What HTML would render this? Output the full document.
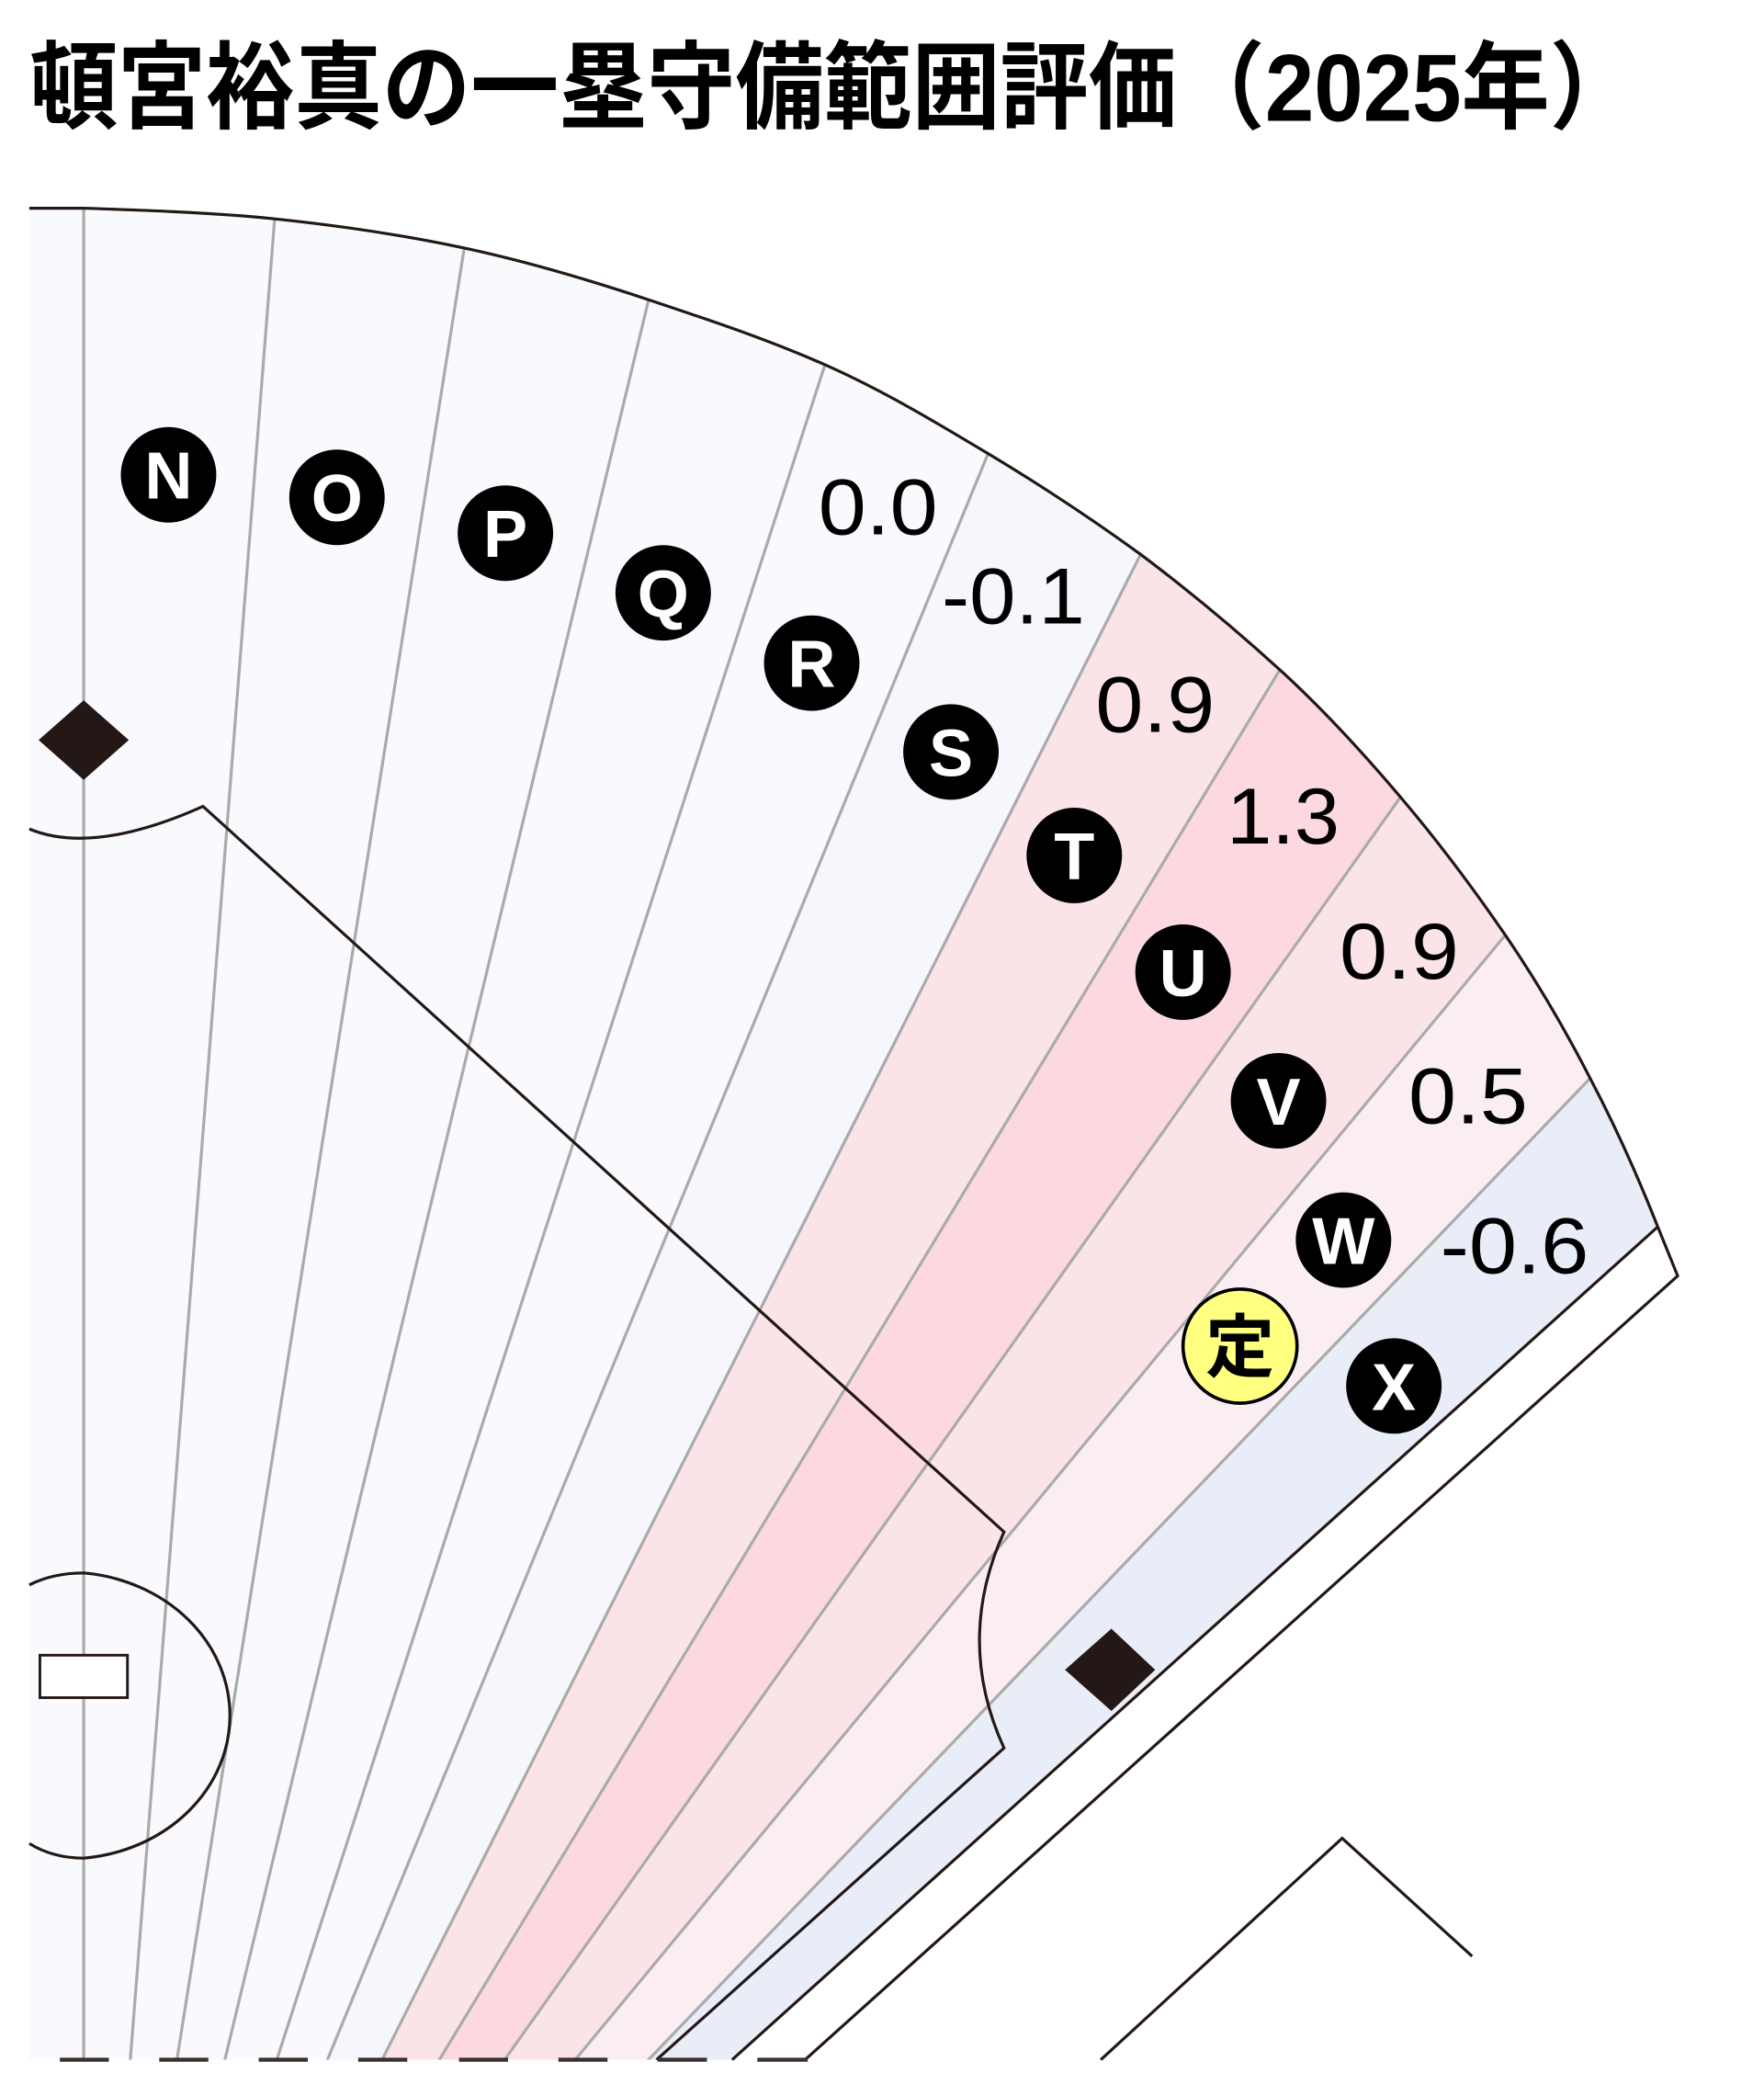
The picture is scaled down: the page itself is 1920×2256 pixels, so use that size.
<!DOCTYPE html>
<html><head><meta charset="utf-8"><style>
html,body{margin:0;padding:0;background:#fff}
svg{display:block}
</style></head><body>
<svg width="1920" height="2256" viewBox="0 0 1330 1563" xmlns="http://www.w3.org/2000/svg">
<defs>
<clipPath id="fan"><path d="M22,157 L63,157 C94,158 159,160 207,165 C255,170 303,177 350,187 C397,197 444,211 489,226 C534,241 579,256 622,275 C665,294 705,318 745,342 C785,366 823,391 860,418 C896,445 932,475 965,505 C998,535 1028,568 1056,601 C1084,634 1111,670 1135,705 C1159,740 1180,776 1199,813 C1218,849 1235,887 1250,925 L552,1553 L22,1553 Z"/></clipPath>
</defs>
<rect width="1330" height="1563" fill="#fff"/>
<text x="22" y="91" font-family="'Liberation Sans','Noto Sans CJK JP',sans-serif" font-weight="bold" font-size="72" textLength="1213" lengthAdjust="spacingAndGlyphs" fill="#000">頓宮裕真の一塁守備範囲評価（2025年）</text>
<g clip-path="url(#fan)">
<rect x="0" y="100" width="1330" height="1460" fill="#f9f9fe"/>
<polygon points="785,245 906,327 287,1555 246,1555" fill="#f5f7fc"/>
<polygon points="906,327 1016,421 330,1555 287,1555" fill="#fae4e8"/>
<polygon points="1016,421 1110,525 379,1555 330,1555" fill="#fbd9de"/>
<polygon points="1110,525 1191,637 432,1555 379,1555" fill="#fae4e8"/>
<polygon points="1191,637 1256,754 487,1555 432,1555" fill="#fbeef2"/>
<polygon points="1256,754 1320,870 552,1555 487,1555" fill="#e8edf7"/>
<g stroke="#aaa" stroke-width="2.2" fill="none">
<line x1="63" y1="157" x2="63" y2="1555"/>
<line x1="207" y1="165" x2="98" y2="1555"/>
<line x1="350" y1="187" x2="133" y2="1555"/>
<line x1="489" y1="226" x2="169" y2="1555"/>
<line x1="622" y1="275" x2="208" y2="1555"/>
<line x1="745" y1="342" x2="246" y2="1555"/>
<line x1="860" y1="418" x2="287" y2="1555"/>
<line x1="965" y1="505" x2="330" y2="1555"/>
<line x1="1056" y1="601" x2="379" y2="1555"/>
<line x1="1135" y1="705" x2="432" y2="1555"/>
<line x1="1199" y1="813" x2="487" y2="1555"/>
</g>
</g>
<g stroke="#231815" stroke-width="2.2" fill="none">
<path d="M22,157 L63,157 C94,158 159,160 207,165 C255,170 303,177 350,187 C397,197 444,211 489,226 C534,241 579,256 622,275 C665,294 705,318 745,342 C785,366 823,391 860,418 C896,445 932,475 965,505 C998,535 1028,568 1056,601 C1084,634 1111,670 1135,705 C1159,740 1180,776 1199,813 C1218,849 1235,887 1250,925 L1265,962 L607,1553"/>
<line x1="1250" y1="925" x2="552" y2="1553"/>
<path d="M22,625 Q70,645 153,608 L757,1155 Q720,1237 757,1318 L495,1553"/>
<path d="M22,1195 Q40,1186 63,1186 A122,108 0 0 1 63,1401 Q40,1401 22,1390"/>
<polyline points="1110,1475 1012,1386 830,1553"/>
</g>
<rect x="30" y="1248" width="66" height="32" fill="#fff" stroke="#231815" stroke-width="2"/>
<polygon points="29,558 63,528 97,558 63,588" fill="#231815"/>
<polygon points="803,1259 838,1228 871,1259 838,1290" fill="#231815"/>
<g stroke="#3a3030" stroke-width="3">
<line x1="45" y1="1553" x2="82" y2="1553"/><line x1="120" y1="1553" x2="157" y2="1553"/>
<line x1="195" y1="1553" x2="232" y2="1553"/><line x1="270" y1="1553" x2="307" y2="1553"/>
<line x1="346" y1="1553" x2="383" y2="1553"/><line x1="421" y1="1553" x2="458" y2="1553"/>
<line x1="496" y1="1553" x2="533" y2="1553"/><line x1="571" y1="1553" x2="609" y2="1553"/>
</g>
<g fill="#000">
<circle cx="127" cy="358" r="36"/><circle cx="254" cy="375" r="36"/>
<circle cx="381" cy="402" r="36"/><circle cx="500" cy="447" r="36"/>
<circle cx="612" cy="500" r="36"/><circle cx="717" cy="567" r="36"/>
<circle cx="810" cy="645" r="36"/><circle cx="892" cy="733" r="36"/>
<circle cx="964" cy="830" r="36"/><circle cx="1013" cy="935" r="36"/>
<circle cx="1051" cy="1045" r="36"/>
</g>
<circle cx="935" cy="1015" r="43" fill="#ffff80" stroke="#000" stroke-width="2.5"/>
<g fill="#fff" font-family="'Liberation Sans',sans-serif" font-weight="bold" font-size="50" text-anchor="middle">
<text x="127" y="376">N</text><text x="254" y="393">O</text>
<text x="381" y="420">P</text><text x="500" y="465">Q</text>
<text x="612" y="518">R</text><text x="717" y="585">S</text>
<text x="810" y="663">T</text><text x="892" y="751">U</text>
<text x="964" y="848">V</text><text x="1013" y="953">W</text>
<text x="1051" y="1063">X</text>
</g>
<text x="935" y="1034" fill="#000" font-family="'Noto Sans CJK JP',sans-serif" font-weight="bold" font-size="52" text-anchor="middle">定</text>
<g fill="#000" font-family="'Liberation Sans',sans-serif" font-size="60">
<text x="617" y="403" textLength="90" lengthAdjust="spacingAndGlyphs">0.0</text>
<text x="710" y="470" textLength="108" lengthAdjust="spacingAndGlyphs">-0.1</text>
<text x="826" y="552" textLength="90" lengthAdjust="spacingAndGlyphs">0.9</text>
<text x="925" y="636" textLength="85" lengthAdjust="spacingAndGlyphs">1.3</text>
<text x="1010" y="738" textLength="90" lengthAdjust="spacingAndGlyphs">0.9</text>
<text x="1062" y="847" textLength="90" lengthAdjust="spacingAndGlyphs">0.5</text>
<text x="1086" y="960" textLength="112" lengthAdjust="spacingAndGlyphs">-0.6</text>
</g>
</svg>
</body></html>
